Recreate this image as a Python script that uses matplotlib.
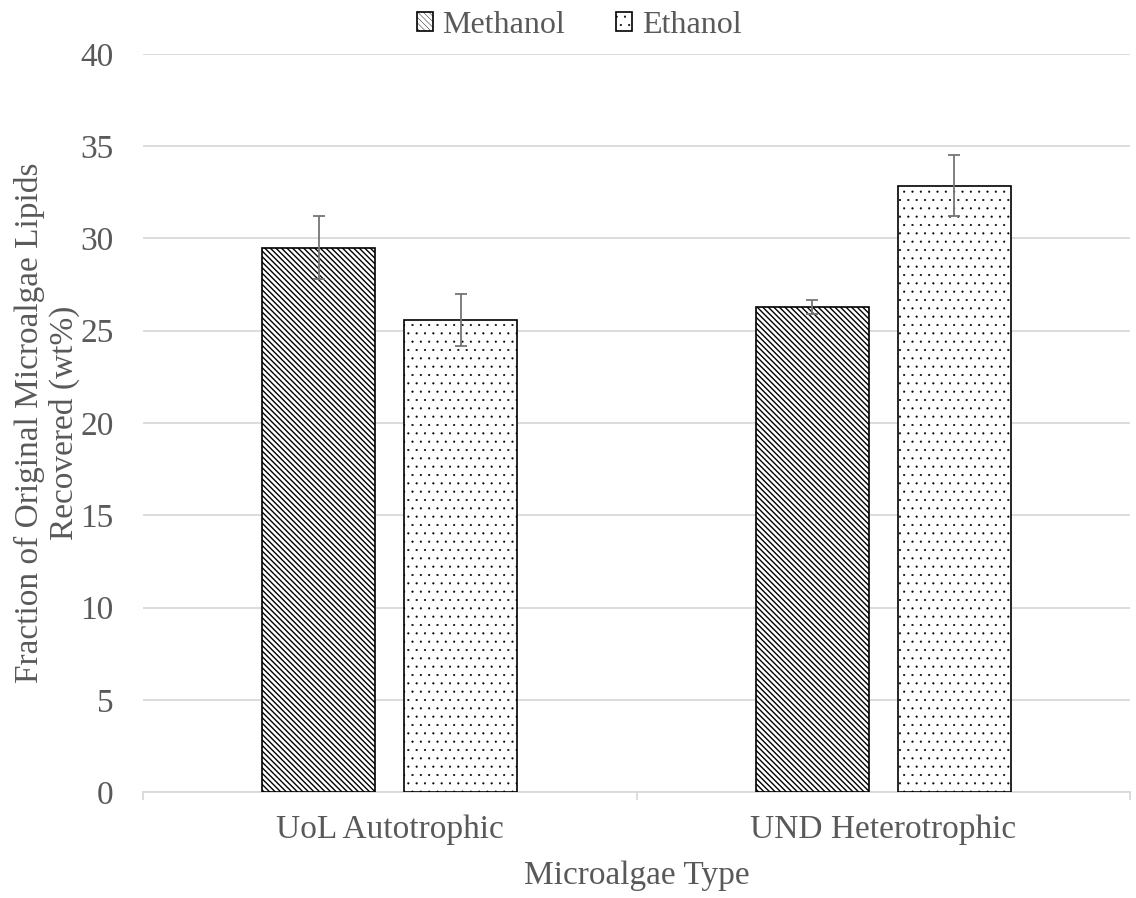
import matplotlib.pyplot as plt
import numpy as np

plt.rcParams['font.family'] = ['Liberation Serif', 'DejaVu Serif']

# data
categories = ['UoL Autotrophic', 'UND Heterotrophic']
methanol = [29.5, 26.3]
methanol_err = [1.7, 0.38]
ethanol = [25.6, 32.85]
ethanol_err = [1.4, 1.65]

txt = '#595959'
grid = '#d9d9d9'

fig = plt.figure(figsize=(11.36, 8.98), dpi=100)
ax = fig.add_axes([0.1259, 0.118, 0.8688, 0.8219])

x = np.arange(len(categories))
w = 0.229
off = 0.144

plt.rcParams['hatch.linewidth'] = 1.0
ax.bar(x - off, methanol, w, color='white', edgecolor='black', linewidth=1.2,
       hatch='\\\\\\\\\\\\', label='Methanol', zorder=3)
plt.rcParams['hatch.linewidth'] = 0.3
ax.bar(x + off, ethanol, w, color='white', edgecolor='black', linewidth=1.2,
       hatch='..', label='Ethanol', zorder=3)
ax.errorbar(x - off, methanol, yerr=methanol_err, fmt='none', ecolor='#757575',
            elinewidth=1.3, capsize=4.3, capthick=1.3, zorder=4)
ax.errorbar(x + off, ethanol, yerr=ethanol_err, fmt='none', ecolor='#757575',
            elinewidth=1.3, capsize=4.3, capthick=1.3, zorder=4)

ax.set_xlim(-0.5, 1.5)
ax.set_ylim(0, 40)
ax.set_yticks(np.arange(0, 41, 5))
ax.yaxis.grid(True, color=grid, linewidth=1.3, zorder=0)
ax.set_axisbelow(True)

for s in ['top', 'right', 'left']:
    ax.spines[s].set_visible(False)
ax.spines['bottom'].set_color(grid)
ax.spines['bottom'].set_linewidth(1.3)

ax.set_xticks(x)
ax.set_xticklabels(categories)
ax.set_xticks([-0.5, 0.5, 1.5], minor=True)
ax.tick_params(axis='x', which='major', length=0, pad=16, labelsize=24, labelcolor=txt)
ax.tick_params(axis='x', which='minor', length=6, width=1.3, color=grid, direction='out')
ax.tick_params(axis='y', length=0, pad=21, labelsize=24, labelcolor=txt)

ax.set_xlabel('Microalgae Type', fontsize=24, color=txt)
ax.xaxis.set_label_coords(0.5, -0.093)
ax.set_ylabel('Fraction of Original Microalgae Lipids\nRecovered (wt%)',
              fontsize=24, color=txt, linespacing=1.15)
ax.yaxis.set_label_coords(-0.064, 0.5)

fig.legend(loc='upper center', bbox_to_anchor=(0.51, 1.02), ncol=2, frameon=False,
           fontsize=23, handlelength=0.5, handleheight=0.5, handletextpad=0.3,
           columnspacing=1.6, labelcolor=txt)

fig.savefig('out.png', dpi=100)
